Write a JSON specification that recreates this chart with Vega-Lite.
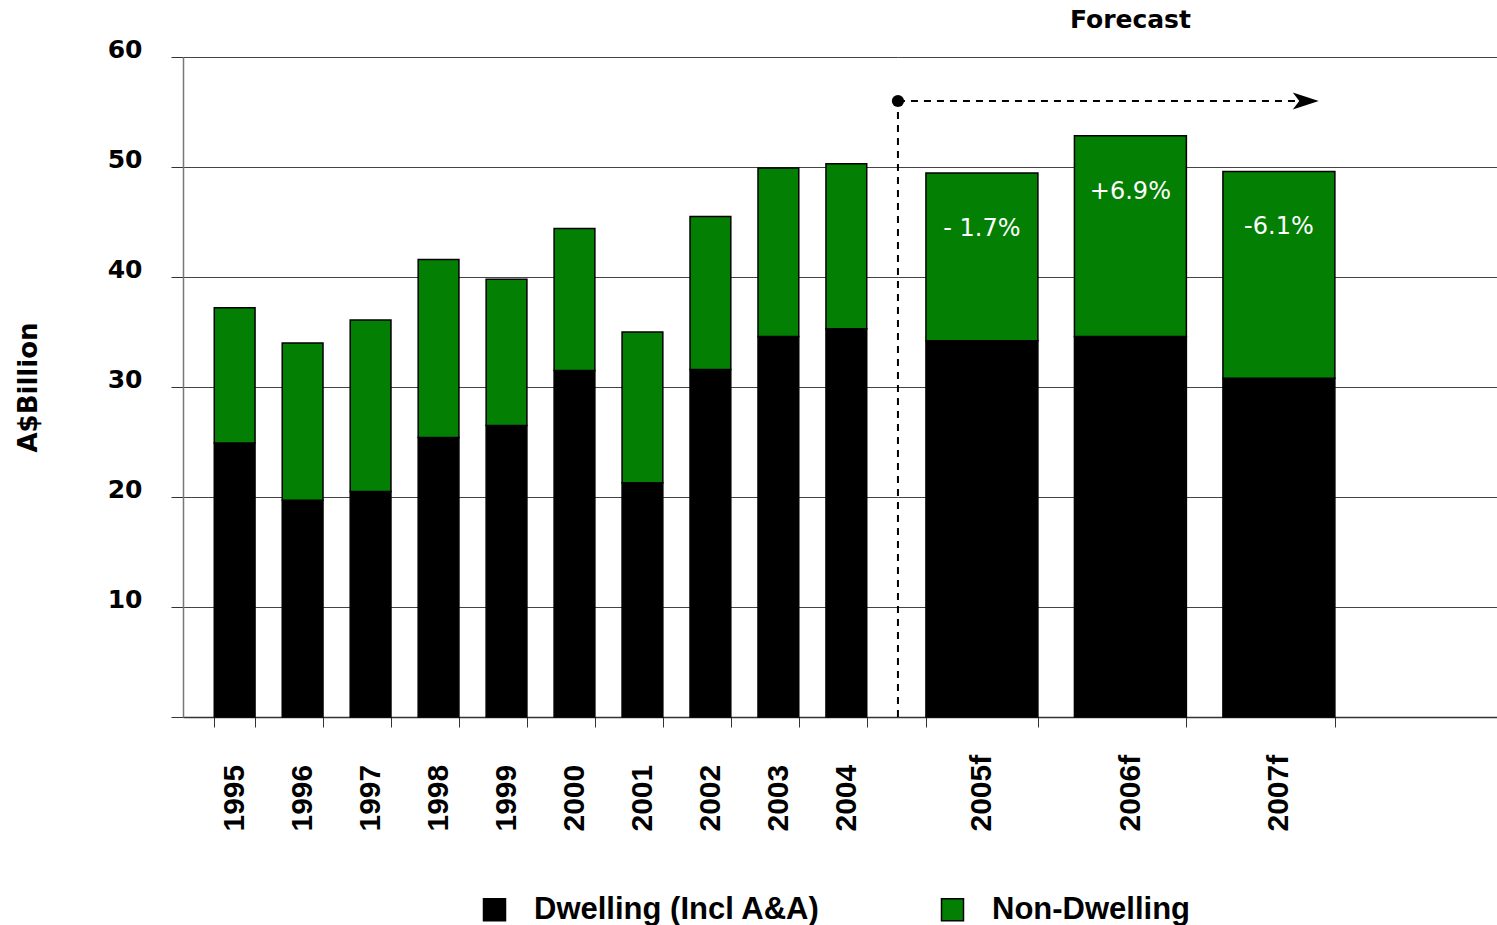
{
  "$schema": "https://vega.github.io/schema/vega-lite/v6.json",
  "background": "white",
  "padding": {"left": 15, "top": 8, "right": 0, "bottom": 0},
  "config": {"view": {"stroke": null}},
  "bounds": "flush",
  "spacing": 0,
  "resolve": {"scale": {"y": "shared", "color": "shared"}},
  "datasets": {
    "actual": [
      {"year": "1995", "segment": "Dwelling (Incl A&A)", "value": 24.9},
      {"year": "1995", "segment": "Non-Dwelling", "value": 12.3},
      {"year": "1996", "segment": "Dwelling (Incl A&A)", "value": 19.7},
      {"year": "1996", "segment": "Non-Dwelling", "value": 14.3},
      {"year": "1997", "segment": "Dwelling (Incl A&A)", "value": 20.5},
      {"year": "1997", "segment": "Non-Dwelling", "value": 15.6},
      {"year": "1998", "segment": "Dwelling (Incl A&A)", "value": 25.4},
      {"year": "1998", "segment": "Non-Dwelling", "value": 16.2},
      {"year": "1999", "segment": "Dwelling (Incl A&A)", "value": 26.5},
      {"year": "1999", "segment": "Non-Dwelling", "value": 13.3},
      {"year": "2000", "segment": "Dwelling (Incl A&A)", "value": 31.5},
      {"year": "2000", "segment": "Non-Dwelling", "value": 12.9},
      {"year": "2001", "segment": "Dwelling (Incl A&A)", "value": 21.3},
      {"year": "2001", "segment": "Non-Dwelling", "value": 13.7},
      {"year": "2002", "segment": "Dwelling (Incl A&A)", "value": 31.6},
      {"year": "2002", "segment": "Non-Dwelling", "value": 13.9},
      {"year": "2003", "segment": "Dwelling (Incl A&A)", "value": 34.6},
      {"year": "2003", "segment": "Non-Dwelling", "value": 15.3},
      {"year": "2004", "segment": "Dwelling (Incl A&A)", "value": 35.3},
      {"year": "2004", "segment": "Non-Dwelling", "value": 15.0}
    ],
    "forecast": [
      {"year": "2005f", "segment": "Dwelling (Incl A&A)", "value": 34.2},
      {"year": "2005f", "segment": "Non-Dwelling", "value": 15.25, "change": "- 1.7%"},
      {"year": "2006f", "segment": "Dwelling (Incl A&A)", "value": 34.6},
      {"year": "2006f", "segment": "Non-Dwelling", "value": 18.25, "change": "+6.9%"},
      {"year": "2007f", "segment": "Dwelling (Incl A&A)", "value": 30.8},
      {"year": "2007f", "segment": "Non-Dwelling", "value": 18.8, "change": "-6.1%"}
    ],
    "forecastSpan": [
      {"start": "2005f", "middle": "2006f", "end": "2007f", "label": "Forecast"}
    ]
  },
  "hconcat": [
    {
      "width": 715,
      "height": 660,
      "data": {"name": "actual"},
      "mark": {"type": "bar", "stroke": "#000000", "strokeWidth": 1.5},
      "encoding": {
        "x": {
          "field": "year",
          "type": "nominal",
          "title": null,
          "scale": {"paddingInner": 0.4, "paddingOuter": 0.46},
          "axis": {
            "labelAngle": -90,
            "labelAlign": "left",
            "labelBaseline": "middle",
            "labelPadding": 104,
            "labelFont": "Liberation Sans",
            "labelFontWeight": "bold",
            "labelFontSize": 30,
            "labelColor": "#000000",
            "tickBand": "extent",
            "tickSize": 10,
            "tickColor": "#333333",
            "domainColor": "#333333",
            "domainWidth": 1.5
          }
        },
        "y": {
          "field": "value",
          "type": "quantitative",
          "stack": "zero",
          "scale": {"domain": [0, 60]},
          "axis": {
            "title": "A$Billion",
            "titleFont": "DejaVu Sans",
            "titleFontWeight": "bold",
            "titleFontSize": 26,
            "titleColor": "#000000",
            "titlePadding": 66,
            "values": [0, 10, 20, 30, 40, 50, 60],
            "labelExpr": "datum.value === 0 ? '' : datum.label",
            "labelFont": "DejaVu Sans",
            "labelFontWeight": "bold",
            "labelFontSize": 25,
            "labelColor": "#000000",
            "labelBaseline": "alphabetic",
            "labelPadding": 29,
            "tickSize": 12,
            "tickColor": "#333333",
            "domainColor": "#777777",
            "domainWidth": 1.5,
            "grid": true,
            "gridColor": "#444444",
            "gridWidth": 1.2,
            "gridOpacity": 1
          }
        },
        "color": {
          "field": "segment",
          "type": "nominal",
          "scale": {"domain": ["Dwelling (Incl A&A)", "Non-Dwelling"], "range": ["#000000", "#037f03"]},
          "legend": {
            "title": null,
            "orient": "none",
            "direction": "horizontal",
            "legendX": 296,
            "legendY": 837,
            "padding": 0,
            "symbolType": "square",
            "symbolSize": 484,
            "symbolStrokeColor": "#000000",
            "symbolStrokeWidth": 1.5,
            "symbolOpacity": 1,
            "labelFont": "Liberation Sans",
            "labelFontWeight": "bold",
            "labelFontSize": 31,
            "labelColor": "#000000",
            "labelOffset": 24,
            "labelLimit": 0,
            "columnPadding": 117
          }
        },
        "order": {"field": "segment", "type": "nominal", "sort": "ascending"}
      }
    },
    {
      "width": 599,
      "height": 660,
      "layer": [
        {
          "data": {"name": "forecast"},
          "mark": {"type": "bar", "stroke": "#000000", "strokeWidth": 1.5},
          "encoding": {
            "x": {
              "field": "year",
              "type": "nominal",
              "title": null,
              "scale": {"paddingInner": 0.246, "paddingOuter": 0.64, "align": 0.147},
              "axis": {
                "labelAngle": -90,
                "labelAlign": "left",
                "labelBaseline": "middle",
                "labelPadding": 104,
                "labelFont": "Liberation Sans",
                "labelFontWeight": "bold",
                "labelFontSize": 30,
                "labelColor": "#000000",
                "tickBand": "extent",
                "tickSize": 10,
                "tickColor": "#333333",
                "domainColor": "#333333",
                "domainWidth": 1.5
              }
            },
            "y": {
              "field": "value",
              "type": "quantitative",
              "stack": "zero",
              "title": null,
              "axis": {
                "values": [10, 20, 30, 40, 50, 60],
                "labels": false,
                "ticks": false,
                "domain": false,
                "grid": true,
                "gridColor": "#444444",
                "gridWidth": 1.2,
                "gridOpacity": 1
              }
            },
            "color": {
              "field": "segment",
              "type": "nominal",
              "scale": {"domain": ["Dwelling (Incl A&A)", "Non-Dwelling"], "range": ["#000000", "#037f03"]}
            },
            "order": {"field": "segment", "type": "nominal", "sort": "ascending"}
          }
        },
        {
          "data": {"name": "forecast"},
          "transform": [
            {"stack": "value", "groupby": ["year"], "sort": [{"field": "segment", "order": "ascending"}], "as": ["bottom", "top"]},
            {"filter": "isValid(datum.change)"}
          ],
          "mark": {"type": "text", "color": "#ffffff", "font": "DejaVu Sans", "fontSize": 24, "align": "center", "baseline": "middle", "dy": 56},
          "encoding": {
            "x": {"field": "year", "type": "nominal", "title": null},
            "y": {"field": "top", "type": "quantitative", "title": null},
            "text": {"field": "change", "type": "nominal"}
          }
        },
        {
          "data": {"name": "forecastSpan"},
          "mark": {"type": "rule", "color": "#000000", "strokeWidth": 2, "strokeDash": [7, 6]},
          "encoding": {
            "x": {"field": "start", "type": "nominal", "bandPosition": -0.25, "title": null},
            "y": {"datum": 0, "type": "quantitative", "title": null},
            "y2": {"datum": 56}
          }
        },
        {
          "data": {"name": "forecastSpan"},
          "mark": {"type": "rule", "color": "#000000", "strokeWidth": 2, "strokeDash": [7, 6]},
          "encoding": {
            "x": {"field": "start", "type": "nominal", "bandPosition": -0.25, "title": null},
            "x2": {"field": "end", "bandPosition": 0.7},
            "y": {"datum": 56, "type": "quantitative", "title": null}
          }
        },
        {
          "data": {"name": "forecastSpan"},
          "mark": {"type": "point", "shape": "circle", "filled": true, "color": "#000000", "opacity": 1, "size": 150},
          "encoding": {
            "x": {"field": "start", "type": "nominal", "bandPosition": -0.25, "title": null},
            "y": {"datum": 56, "type": "quantitative", "title": null}
          }
        },
        {
          "data": {"name": "forecastSpan"},
          "mark": {"type": "point", "shape": "M1,0L-1,-0.65L-0.5,0L-1,0.65Z", "filled": true, "color": "#000000", "opacity": 1, "size": 676},
          "encoding": {
            "x": {"field": "end", "type": "nominal", "bandPosition": 0.74, "title": null},
            "y": {"datum": 56, "type": "quantitative", "title": null}
          }
        },
        {
          "data": {"name": "forecastSpan"},
          "mark": {"type": "text", "font": "DejaVu Sans", "fontWeight": "bold", "fontSize": 25, "color": "#000000", "align": "center", "baseline": "alphabetic", "dy": -29},
          "encoding": {
            "x": {"field": "middle", "type": "nominal", "title": null},
            "y": {"datum": 60, "type": "quantitative", "title": null},
            "text": {"field": "label", "type": "nominal"}
          }
        }
      ]
    }
  ]
}
